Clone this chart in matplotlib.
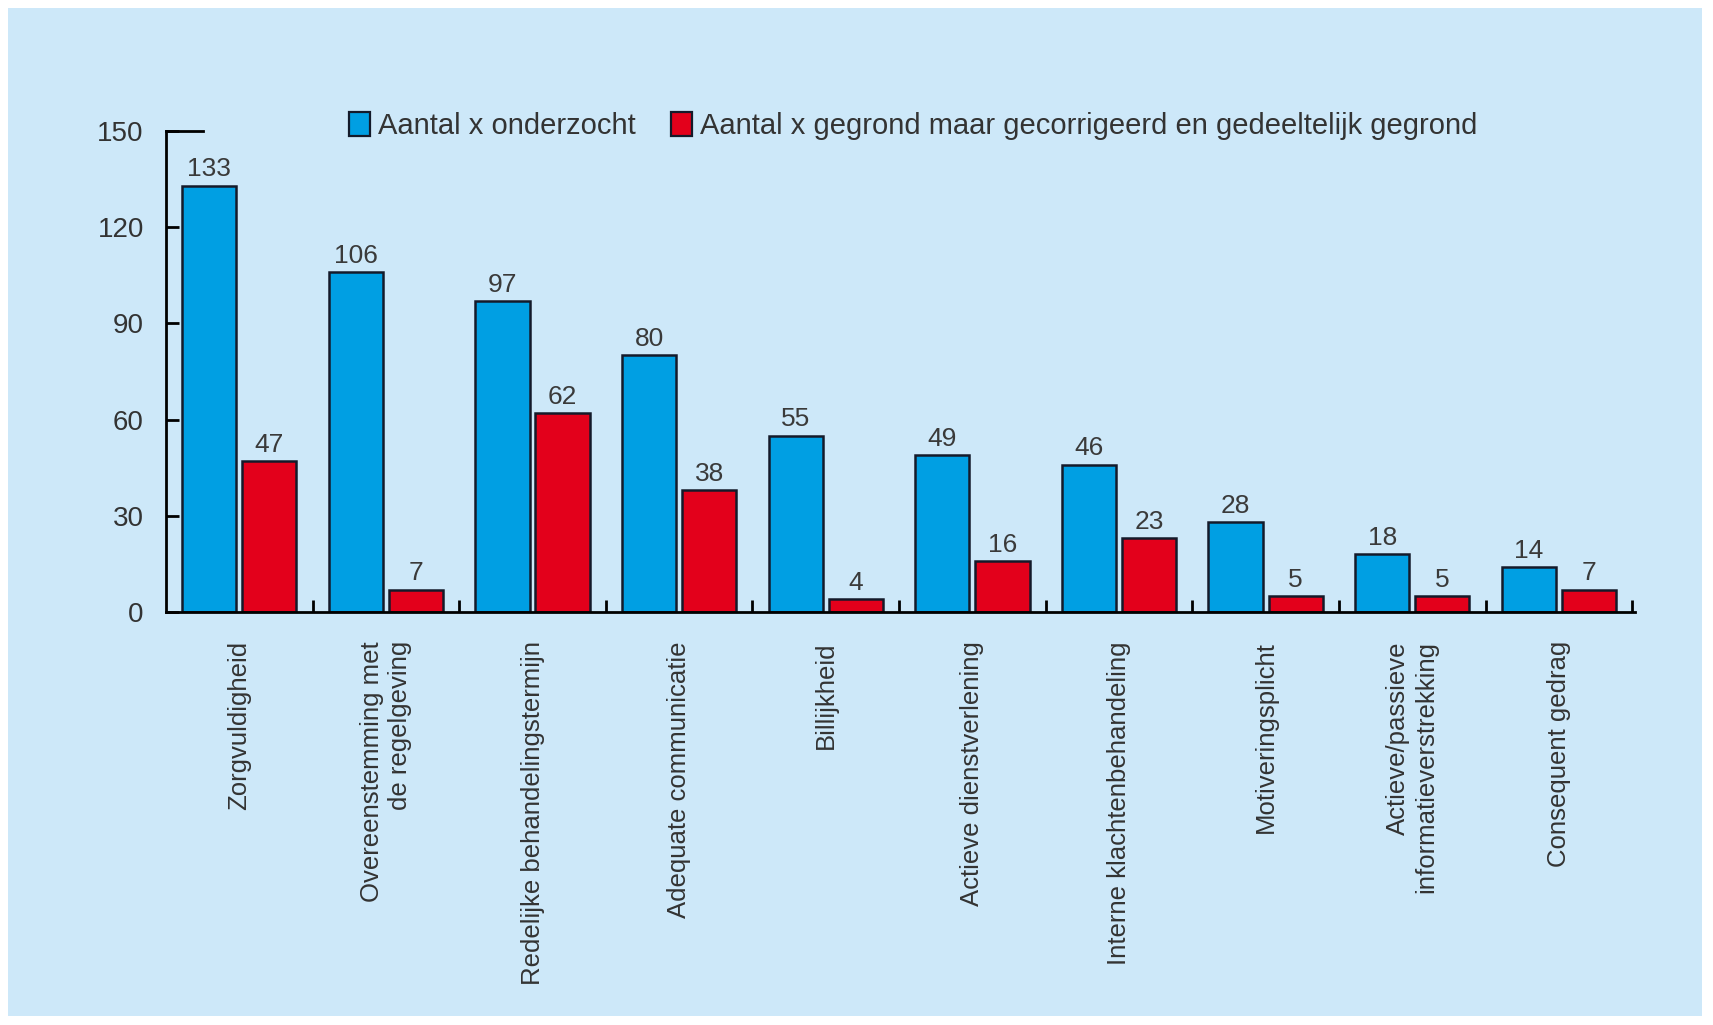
#!/usr/bin/env python

import sys
import numpy as np
import matplotlib
matplotlib.use("Agg")
import matplotlib.pyplot as plt
from matplotlib.patches import Rectangle, Patch

"""
Grouped bars: onderzocht vs gegrond, per behoorlijkheidsnorm
"""

categories = [
	"Zorgvuldigheid",
	"Overeenstemming met\nde regelgeving",
	"Redelijke behandelingstermijn",
	"Adequate communicatie",
	"Billijkheid",
	"Actieve dienstverlening",
	"Interne klachtenbehandeling",
	"Motiveringsplicht",
	"Actieve/passieve\ninformatieverstrekking",
	"Consequent gedrag",
]
onderzocht = [133, 106, 97, 80, 55, 49, 46, 28, 18, 14]
gegrond = [47, 7, 62, 38, 4, 16, 23, 5, 5, 7]
yticks = [0, 30, 60, 90, 120, 150]
labels = ["Aantal x onderzocht",
	"Aantal x gegrond maar gecorrigeerd en gedeeltelijk gegrond"]

BLUE = "#009fe3"
RED = "#e3001b"
BG = "#cde8f9"
EDGE = "#141a2a"
FONT = "Liberation Sans"


def main():
	fig = plt.figure(figsize=(17.13, 10.25), dpi=100)
	fig.patch.set_facecolor("white")
	# light blue panel inside a thin white border
	fig.patches.append(Rectangle((8 / 1713, 9 / 1025), 1694 / 1713, 1008 / 1025,
		transform=fig.transFigure, facecolor=BG, edgecolor="none", zorder=-10))

	ax = fig.add_axes([0.0969, 0.4029, 0.8576, 0.4693])
	ax.set_facecolor("none")

	x = np.arange(len(categories))
	w = 0.37
	b1 = ax.bar(x - 0.205, onderzocht, w, color=BLUE, edgecolor=EDGE, linewidth=1.8)
	b2 = ax.bar(x + 0.205, gegrond, w, color=RED, edgecolor=EDGE, linewidth=1.8)

	for bars in (b1, b2):
		for r in bars:
			ax.annotate(str(int(r.get_height())),
				(r.get_x() + r.get_width() / 2, r.get_height()),
				xytext=(0, 3), textcoords="offset points",
				ha="center", va="bottom", fontsize=19, color="#3a3a3a",
				family=FONT)

	ax.set_xlim(-0.5, 9.52)
	ax.set_ylim(0, 150)

	for s in ("top", "right"):
		ax.spines[s].set_visible(False)
	for s in ("left", "bottom"):
		ax.spines[s].set_linewidth(2)
		ax.spines[s].set_color("black")
	# the top tick at 150 is drawn a bit longer than the others
	ax.axhline(150, xmin=0, xmax=0.025, color="black", lw=2, clip_on=False)

	ax.set_yticks(yticks)
	ax.set_yticklabels([str(v) for v in yticks], family=FONT, fontsize=20, color="#333333")
	ax.tick_params(axis="y", direction="in", length=9, width=2, pad=16)

	ax.set_xticks(x)
	ax.set_xticklabels(categories, rotation=90, fontsize=18.5, color="#333333",
		family=FONT, multialignment="right")
	ax.tick_params(axis="x", which="major", length=0, pad=21)
	ax.set_xticks(x + 0.5, minor=True)
	ax.tick_params(axis="x", which="minor", direction="in", length=9, width=2)

	handles = [Patch(facecolor=BLUE, edgecolor=EDGE, linewidth=1.6),
		Patch(facecolor=RED, edgecolor=EDGE, linewidth=1.6)]
	fig.legend(handles, labels, loc="center left",
		bbox_to_anchor=(323 / 1713, 1 - 126 / 1025), ncol=2, frameon=False,
		handlelength=0.7, handleheight=0.9, handletextpad=0.3, columnspacing=1.2,
		prop={"family": FONT, "size": 21}, labelcolor="#333333")

	fig.savefig("out.png", dpi=100, facecolor=fig.get_facecolor())
	return 0


if __name__ == "__main__":
	sys.exit(main())
